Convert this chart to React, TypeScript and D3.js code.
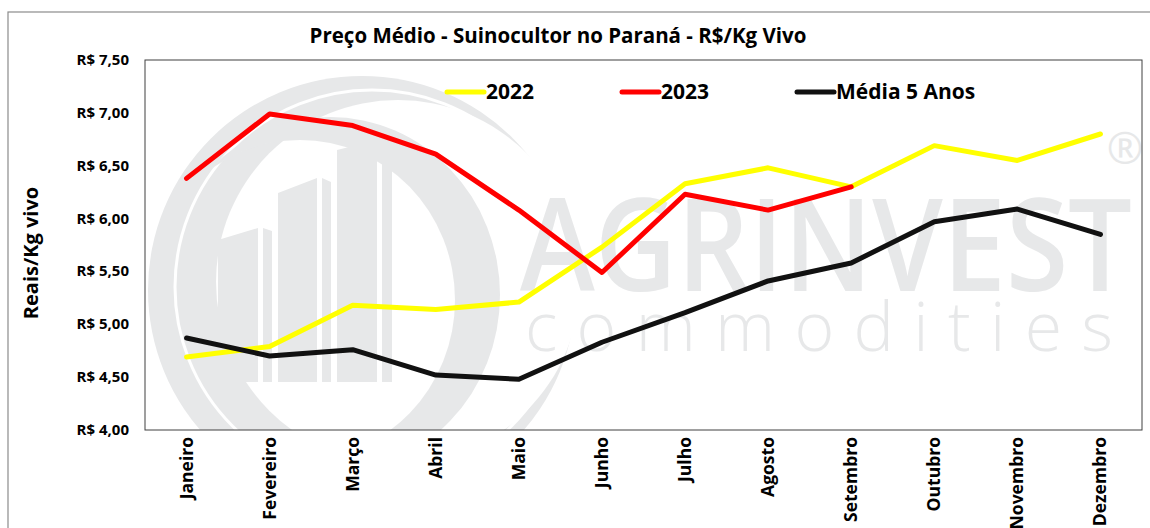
import React from "react";
import * as d3 from "d3";

const months = ["Janeiro","Fevereiro","Março","Abril","Maio","Junho","Julho","Agosto","Setembro","Outubro","Novembro","Dezembro"];
const s2022 = [4.69,4.79,5.18,5.14,5.21,5.73,6.33,6.48,6.30,6.69,6.55,6.80];
const s2023 = [6.38,6.99,6.88,6.61,6.08,5.49,6.23,6.08,6.30,null,null,null];
const sMedia = [4.87,4.70,4.76,4.52,4.48,4.83,5.11,5.41,5.58,5.97,6.09,5.85];
const yTicks = [4.0,4.5,5.0,5.5,6.0,6.5,7.0,7.5];
const seriesNames = ["2022","2023","Média 5 Anos"];
const seriesColors = ["#ffff00","#ff0000","#111111"];

const W = 1150, H = 528;
const L = 145, R = 1142, T = 60, B = 430;
const FONT = "'Open Sans', sans-serif";
const WM = "#e7e8e9";

export default function App() {
  const x = d3.scaleBand<string>().domain(months).range([L, R]);
  const cx = (m: string) => (x(m) as number) + x.bandwidth() / 2;
  const y = d3.scaleLinear().domain([4, 7.5]).range([B, T]);
  const line = d3.line<number | null>()
    .defined((d) => d != null)
    .x((_, i) => cx(months[i]))
    .y((d) => y(d as number));
  const all = [s2022, s2023, sMedia];
  const legendX = [447, 622, 797];

  return (
    <svg width={W} height={H} style={{ position: "absolute", left: 0, top: 0 }}>
      <defs>
        <clipPath id="plot"><rect x={L} y={T} width={R - L} height={B - T} /></clipPath>
        <mask id="cres1">
          <rect x={0} y={0} width={W} height={H} fill="white" />
          <circle cx={398} cy={282} r={182} fill="black" />
          <circle cx={372} cy={287} r={197} fill="none" stroke="black" strokeWidth={3} />
        </mask>
        <mask id="cres2">
          <rect x={0} y={0} width={W} height={H} fill="white" />
          <ellipse cx={300} cy={300} rx={155} ry={160} fill="black" />
        </mask>
      </defs>
      <rect x={8} y={12} width={1160} height={530} fill="white" stroke="#8c8c8c" strokeWidth={1.2} />
      {/* watermark */}
      <g clipPath="url(#plot)">
        <circle cx={362} cy={290} r={214} fill={WM} mask="url(#cres1)" />
        <ellipse cx={330} cy={295} rx={170} ry={178} fill={WM} mask="url(#cres2)" />
        <polygon points="218,240 258,228 258,382 218,382" fill={WM} />
        <polygon points="263,228 272,231 272,382 263,382" fill={WM} />
        <polygon points="278,193 317,178 317,382 278,382" fill={WM} />
        <polygon points="322,178 331,182 331,382 322,382" fill={WM} />
        <polygon points="337,150 377,140 377,382 337,382" fill={WM} />
        <polygon points="382,140 392,143 392,382 382,382" fill={WM} />
        <text x={520} y={291} fontFamily={FONT} fontWeight={600} fontSize={128} fill={WM} textLength={612} lengthAdjust="spacingAndGlyphs">AGRINVEST</text>
        <text x={525} y={351} fontFamily={FONT} fontWeight={300} fontSize={68} fill={WM} textLength={588} lengthAdjust="spacing">commodities</text>
        <text x={1125} y={164} fontFamily={FONT} fontWeight={400} fontSize={44} fill={WM} textAnchor="middle">®</text>
      </g>
      <rect x={L} y={T} width={R - L} height={B - T} fill="none" stroke="#404040" strokeWidth={1} />
      {/* title */}
      <text x={558} y={43} textAnchor="middle" fontFamily={FONT} fontWeight={700} fontSize={20.5} fill="#000">Preço Médio - Suinocultor no Paraná - R$/Kg Vivo</text>
      {/* y axis */}
      {yTicks.map((t) => (
        <text key={t} x={129} y={y(t) + 5} textAnchor="end" fontFamily={FONT} fontWeight={700} fontSize={15} fill="#000">
          {"R$ " + t.toFixed(2).replace(".", ",")}
        </text>
      ))}
      <text transform={`translate(38,253) rotate(-90)`} textAnchor="middle" fontFamily={FONT} fontWeight={700} fontSize={20} fill="#000">Reais/Kg vivo</text>
      {/* x axis */}
      {months.map((m) => (
        <text key={m} transform={`translate(${cx(m) + 6},437) rotate(-90)`} textAnchor="end" fontFamily={FONT} fontWeight={700} fontSize={17.5} fill="#000">{m}</text>
      ))}
      {/* lines */}
      {all.map((s, i) => (
        <path key={i} d={line(s as (number | null)[]) || ""} fill="none" stroke={seriesColors[i]} strokeWidth={5} strokeLinejoin="round" strokeLinecap="round" />
      ))}
      {/* legend */}
      {seriesNames.map((n, i) => (
        <g key={n}>
          <line x1={legendX[i]} x2={legendX[i] + 37} y1={92} y2={92} stroke={seriesColors[i]} strokeWidth={5} strokeLinecap="round" />
          <text x={legendX[i] + 39} y={99} fontFamily={FONT} fontWeight={700} fontSize={21} fill="#000">{n}</text>
        </g>
      ))}
    </svg>
  );
}
